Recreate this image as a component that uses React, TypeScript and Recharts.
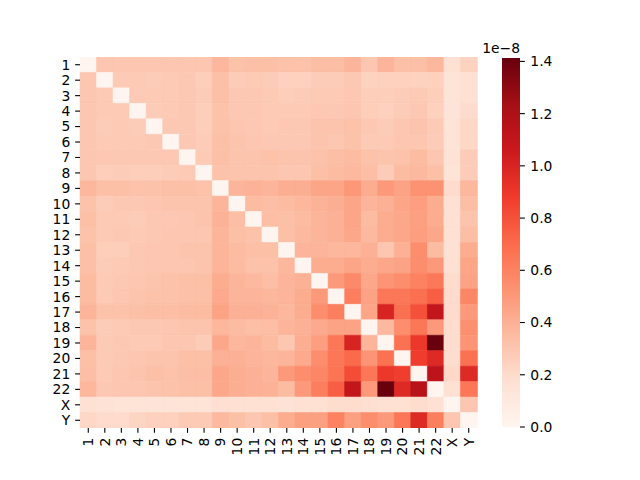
import { BarChart, Bar, Cell, XAxis, YAxis } from 'recharts';

const labels = ['1', '2', '3', '4', '5', '6', '7', '8', '9', '10', '11', '12', '13', '14', '15', '16', '17', '18', '19', '20', '21', '22', 'X', 'Y'];

// values in units of 1e-8, rows top to bottom, columns left to right
const values: number[][] = [
  [0, 0.30, 0.30, 0.30, 0.30, 0.30, 0.30, 0.30, 0.37, 0.32, 0.33, 0.33, 0.32, 0.32, 0.34, 0.34, 0.38, 0.30, 0.38, 0.33, 0.33, 0.37, 0.17, 0.24],
  [0.30, 0, 0.28, 0.28, 0.27, 0.28, 0.29, 0.26, 0.33, 0.27, 0.28, 0.27, 0.25, 0.25, 0.27, 0.27, 0.29, 0.24, 0.25, 0.25, 0.24, 0.25, 0.15, 0.17],
  [0.30, 0.28, 0, 0.28, 0.28, 0.28, 0.29, 0.27, 0.33, 0.29, 0.29, 0.28, 0.26, 0.27, 0.28, 0.28, 0.29, 0.26, 0.26, 0.27, 0.28, 0.26, 0.15, 0.17],
  [0.30, 0.28, 0.28, 0, 0.27, 0.28, 0.29, 0.26, 0.32, 0.29, 0.29, 0.28, 0.28, 0.28, 0.29, 0.29, 0.30, 0.26, 0.25, 0.27, 0.29, 0.25, 0.14, 0.20],
  [0.30, 0.27, 0.28, 0.27, 0, 0.29, 0.29, 0.26, 0.32, 0.30, 0.29, 0.28, 0.29, 0.29, 0.31, 0.31, 0.32, 0.29, 0.27, 0.30, 0.31, 0.28, 0.15, 0.22],
  [0.30, 0.28, 0.28, 0.28, 0.29, 0, 0.29, 0.27, 0.33, 0.31, 0.30, 0.29, 0.29, 0.29, 0.31, 0.30, 0.32, 0.28, 0.28, 0.30, 0.30, 0.27, 0.15, 0.22],
  [0.30, 0.29, 0.29, 0.29, 0.29, 0.29, 0, 0.28, 0.33, 0.31, 0.31, 0.32, 0.31, 0.31, 0.32, 0.34, 0.35, 0.32, 0.31, 0.32, 0.35, 0.30, 0.16, 0.27],
  [0.30, 0.26, 0.27, 0.26, 0.26, 0.27, 0.28, 0, 0.32, 0.31, 0.31, 0.31, 0.30, 0.30, 0.33, 0.35, 0.36, 0.34, 0.27, 0.35, 0.36, 0.33, 0.15, 0.27],
  [0.37, 0.33, 0.33, 0.32, 0.32, 0.33, 0.33, 0.32, 0, 0.38, 0.39, 0.38, 0.41, 0.41, 0.45, 0.45, 0.51, 0.42, 0.50, 0.46, 0.53, 0.53, 0.20, 0.37],
  [0.32, 0.27, 0.29, 0.29, 0.30, 0.31, 0.31, 0.31, 0.38, 0, 0.35, 0.34, 0.35, 0.37, 0.39, 0.41, 0.45, 0.38, 0.40, 0.45, 0.48, 0.42, 0.17, 0.34],
  [0.33, 0.28, 0.28, 0.27, 0.29, 0.29, 0.30, 0.31, 0.39, 0.34, 0, 0.34, 0.33, 0.35, 0.38, 0.40, 0.45, 0.35, 0.42, 0.44, 0.47, 0.42, 0.17, 0.31],
  [0.32, 0.28, 0.29, 0.28, 0.29, 0.30, 0.30, 0.30, 0.38, 0.33, 0.32, 0, 0.33, 0.36, 0.38, 0.40, 0.44, 0.36, 0.42, 0.44, 0.48, 0.44, 0.17, 0.34],
  [0.33, 0.26, 0.26, 0.29, 0.30, 0.30, 0.31, 0.31, 0.38, 0.35, 0.33, 0.33, 0, 0.38, 0.38, 0.37, 0.37, 0.40, 0.30, 0.40, 0.55, 0.35, 0.17, 0.42],
  [0.33, 0.27, 0.28, 0.29, 0.30, 0.30, 0.30, 0.31, 0.38, 0.35, 0.32, 0.32, 0.37, 0, 0.42, 0.42, 0.45, 0.42, 0.44, 0.46, 0.55, 0.50, 0.17, 0.45],
  [0.35, 0.28, 0.29, 0.30, 0.31, 0.32, 0.33, 0.33, 0.42, 0.38, 0.36, 0.34, 0.38, 0.40, 0, 0.50, 0.57, 0.44, 0.52, 0.55, 0.60, 0.64, 0.19, 0.46],
  [0.35, 0.28, 0.30, 0.31, 0.32, 0.32, 0.33, 0.33, 0.43, 0.38, 0.38, 0.37, 0.38, 0.42, 0.50, 0, 0.62, 0.46, 0.65, 0.65, 0.68, 0.75, 0.20, 0.58],
  [0.38, 0.32, 0.32, 0.33, 0.34, 0.34, 0.35, 0.35, 0.46, 0.40, 0.40, 0.39, 0.37, 0.42, 0.55, 0.62, 0, 0.45, 1.00, 0.68, 0.80, 1.10, 0.20, 0.50],
  [0.32, 0.27, 0.28, 0.29, 0.29, 0.30, 0.31, 0.31, 0.37, 0.35, 0.33, 0.34, 0.38, 0.40, 0.43, 0.46, 0.46, 0, 0.36, 0.55, 0.65, 0.50, 0.19, 0.54],
  [0.38, 0.28, 0.29, 0.28, 0.28, 0.30, 0.30, 0.27, 0.44, 0.37, 0.38, 0.35, 0.30, 0.41, 0.48, 0.65, 1.00, 0.38, 0, 0.67, 0.90, 1.41, 0.19, 0.52],
  [0.33, 0.28, 0.29, 0.30, 0.31, 0.31, 0.33, 0.33, 0.40, 0.40, 0.38, 0.37, 0.38, 0.43, 0.55, 0.65, 0.70, 0.52, 0.67, 0, 0.88, 0.97, 0.19, 0.67],
  [0.34, 0.28, 0.30, 0.31, 0.33, 0.32, 0.34, 0.34, 0.44, 0.41, 0.40, 0.38, 0.50, 0.55, 0.58, 0.66, 0.82, 0.65, 0.90, 0.87, 0, 1.13, 0.21, 0.97],
  [0.37, 0.29, 0.30, 0.30, 0.31, 0.32, 0.33, 0.33, 0.44, 0.41, 0.40, 0.39, 0.35, 0.50, 0.62, 0.75, 1.10, 0.50, 1.41, 0.97, 1.15, 0, 0.17, 0.65],
  [0.17, 0.16, 0.15, 0.15, 0.14, 0.15, 0.15, 0.15, 0.18, 0.17, 0.17, 0.17, 0.16, 0.17, 0.17, 0.19, 0.19, 0.18, 0.17, 0.17, 0.19, 0.17, 0, 0.30],
  [0.22, 0.20, 0.20, 0.23, 0.25, 0.25, 0.28, 0.28, 0.36, 0.33, 0.30, 0.33, 0.42, 0.47, 0.47, 0.60, 0.47, 0.55, 0.50, 0.65, 0.97, 0.62, 0.30, 0],
];

const vmax = 1.413;
const colorbarTicks = [0, 0.2, 0.4, 0.6, 0.8, 1.0, 1.2, 1.4];

const redStops = ['#fff5f0', '#fee0d2', '#fcbba1', '#fc9272', '#fb6a4a', '#ef3b2c', '#cb181d', '#a50f15', '#67000d'];

function hexToRgb(h: string) {
  return [1, 3, 5].map((i) => parseInt(h.slice(i, i + 2), 16));
}

function reds(t: number) {
  const s = Math.max(0, Math.min(1, t)) * 8;
  const i = Math.min(7, Math.floor(s));
  const f = s - i;
  const a = hexToRgb(redStops[i]);
  const b = hexToRgb(redStops[i + 1]);
  const c = a.map((v, k) => Math.round(v + (b[k] - v) * f));
  return `rgb(${c[0]},${c[1]},${c[2]})`;
}

// one entry per column; each row of the matrix is stacked as a unit-height segment
const columns = labels.map((label) => {
  const entry: Record<string, string | number> = { label };
  labels.forEach((_, r) => {
    entry[`r${r}`] = 1;
  });
  return entry;
});

const colorbarData = [{ name: 'cbar', v: vmax }];

const FONT = 13.89;
const TICK = 4.86;

function XTick(props: any) {
  const { x, y, payload } = props;
  return (
    <text x={x} y={y} transform={`rotate(-90 ${x} ${y})`} textAnchor="end" dy="0.35em" fill="#000" fontSize={FONT}>
      {payload.value}
    </text>
  );
}

export default function App() {
  return (
    <div style={{ position: 'absolute', left: 0, top: 0, width: 640, height: 480, background: '#fff', fontFamily: 'DejaVu Sans' }}>
      <div style={{ position: 'absolute', left: 0, top: 0 }}>
        <BarChart width={640} height={480} data={columns} barCategoryGap={0} barGap={0} margin={{ top: 57, right: 163, bottom: 12, left: 0 }}>
          <XAxis
            dataKey="label"
            type="category"
            interval={0}
            height={40}
            axisLine={false}
            tickSize={TICK}
            tickMargin={TICK}
            tickLine={{ stroke: '#000', strokeWidth: 1.1 }}
            tick={<XTick />}
          />
          <YAxis
            type="number"
            domain={[0, labels.length]}
            allowDataOverflow
            reversed
            width={80}
            ticks={labels.map((_, i) => i + 0.5)}
            interval={0}
            tickFormatter={(v: number) => labels[Math.floor(v)]}
            axisLine={false}
            tickSize={TICK}
            tickMargin={TICK}
            tickLine={{ stroke: '#000', strokeWidth: 1.1 }}
            tick={{ fill: '#000', fontSize: FONT }}
          />
          {labels.map((_, r) => (
            <Bar key={r} dataKey={`r${r}`} stackId="cells" isAnimationActive={false}>
              {labels.map((__, c) => {
                const col = reds(values[r][c] / vmax);
                return <Cell key={c} fill={col} stroke={col} strokeWidth={0.6} />;
              })}
            </Bar>
          ))}
        </BarChart>
      </div>
      <div style={{ position: 'absolute', left: 0, top: 0 }}>
        <BarChart width={640} height={480} data={colorbarData} barCategoryGap={0} margin={{ top: 58, right: 62, bottom: 53, left: 502 }}>
          <defs>
            <linearGradient id="cbar" x1="0" y1="1" x2="0" y2="0">
              {redStops.map((c, i) => (
                <stop key={i} offset={`${(i / 8) * 100}%`} stopColor={c} />
              ))}
            </linearGradient>
          </defs>
          <XAxis dataKey="name" hide />
          <YAxis
            orientation="right"
            type="number"
            domain={[0, vmax]}
            allowDataOverflow
            ticks={colorbarTicks}
            interval={0}
            width={58}
            tickFormatter={(v: number) => v.toFixed(1)}
            axisLine={false}
            tickSize={TICK}
            tickMargin={5.5}
            tickLine={{ stroke: '#000', strokeWidth: 1.1 }}
            tick={{ fill: '#000', fontSize: FONT, textAnchor: 'start' }}
          />
          <Bar dataKey="v" fill="url(#cbar)" isAnimationActive={false} />
        </BarChart>
      </div>
      <div style={{ position: 'absolute', right: 120, top: 40, fontSize: FONT, color: '#000', whiteSpace: 'nowrap' }}>1e−8</div>
    </div>
  );
}
